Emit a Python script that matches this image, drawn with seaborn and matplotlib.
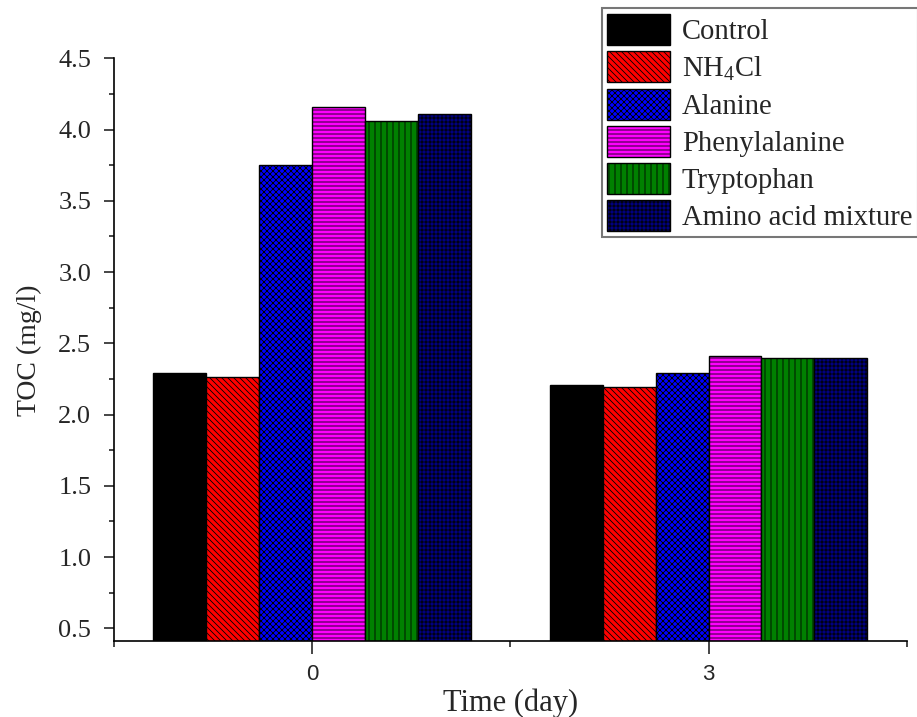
import numpy as np
import pandas as pd
import matplotlib
matplotlib.use("Agg")
import matplotlib.pyplot as plt
import seaborn as sns
from matplotlib.patches import Patch
from matplotlib.ticker import MultipleLocator, FixedLocator

# ---- data ----
days = [0, 3]
treatments = ["Control", "NH$_4$Cl", "Alanine", "Phenylalanine", "Tryptophan", "Amino acid mixture"]
control = [2.29, 2.21]
nh4cl = [2.26, 2.19]
alanine = [3.75, 2.29]
phenylalanine = [4.16, 2.41]
tryptophan = [4.06, 2.40]
amino_mix = [4.11, 2.40]
y_ticks = [0.5, 1.0, 1.5, 2.0, 2.5, 3.0, 3.5, 4.0, 4.5]

series = [control, nh4cl, alanine, phenylalanine, tryptophan, amino_mix]
rows = []
for name, vals in zip(treatments, series):
    for d, v in zip(days, vals):
        rows.append({"Time": d, "Treatment": name, "TOC": v})
df = pd.DataFrame(rows)

colors = ["#000000", "#FF0000", "#0000FF", "#FF00FF", "#008000", "#000080"]
# rendered at 72 dpi so the hatch spacing falls on whole pixels
hatches = [None, "\\" * 4, "xxxx", "---", "||", "+++"]

DPI = 72
S = 100 / DPI  # point-size scale so sizes match a 100-dpi layout

sns.set_style("ticks")
plt.rcParams["font.family"] = ["Liberation Serif", "DejaVu Serif"]
plt.rcParams["mathtext.fontset"] = "custom"
plt.rcParams["mathtext.rm"] = "Liberation Serif"
plt.rcParams["mathtext.it"] = "Liberation Serif:italic"
plt.rcParams["hatch.linewidth"] = 0.6 * S

fig = plt.figure(figsize=(917 / DPI, 717 / DPI), dpi=DPI)
ax = fig.add_axes([0.1238, 0.1053, 0.989 - 0.1238, 0.9187 - 0.1053])

sns.barplot(data=df, x="Time", y="TOC", hue="Treatment", hue_order=treatments,
            palette=colors, native_scale=True, width=0.8, gap=0,
            edgecolor="black", linewidth=1.0 * S, saturation=1, errorbar=None, ax=ax)

for cont, h in zip(ax.containers, hatches):
    for bar in cont:
        if h:
            bar.set_hatch(h)

ax.get_legend().remove()

ax.set_xlim(-1.5, 4.5)
ax.set_ylim(0.407, 4.5)
ax.set_xticks(days)
ax.set_xticklabels([str(d) for d in days], fontfamily="Liberation Sans", fontsize=16 * S)
ax.xaxis.set_minor_locator(FixedLocator([-1.5, 1.5, 4.5]))
ax.set_yticks(y_ticks)
ax.set_yticklabels([f"{t:.1f}" for t in y_ticks], fontsize=19 * S)
ax.yaxis.set_minor_locator(MultipleLocator(0.25))

ax.tick_params(axis="x", which="major", direction="out", length=9.5 * S, width=1.2 * S, pad=7 * S)
ax.tick_params(axis="x", which="minor", direction="out", length=4.5 * S, width=1.2 * S)
ax.tick_params(axis="y", which="major", direction="out", length=7 * S, width=1.2 * S, pad=9 * S)
ax.tick_params(axis="y", which="minor", direction="out", length=3.5 * S, width=1.2 * S)

for s in ["top", "right"]:
    ax.spines[s].set_visible(False)
for s in ["left", "bottom"]:
    ax.spines[s].set_linewidth(1.2 * S)
    ax.spines[s].set_color("black")

ax.set_xlabel("Time (day)", fontsize=22 * S, labelpad=2 * S)
ax.set_ylabel("TOC (mg/l)", fontsize=20 * S, labelpad=12 * S)

handles = [Patch(facecolor=c, edgecolor="black", hatch=h, linewidth=1.0 * S)
           for c, h in zip(colors, hatches)]
leg = fig.legend(handles, treatments, loc="upper left",
                 bbox_to_anchor=(601.7 / 917, 1 - 8.3 / 717),
                 bbox_transform=fig.transFigure,
                 fontsize=20.6 * S, frameon=True, fancybox=False, framealpha=1,
                 edgecolor="#777777", borderpad=0.2, handlelength=2.2,
                 handleheight=1.3, handletextpad=0.4, labelspacing=0.21,
                 borderaxespad=0)
leg.get_frame().set_linewidth(1.5 * S)

fig.savefig("out.png", dpi=DPI)
